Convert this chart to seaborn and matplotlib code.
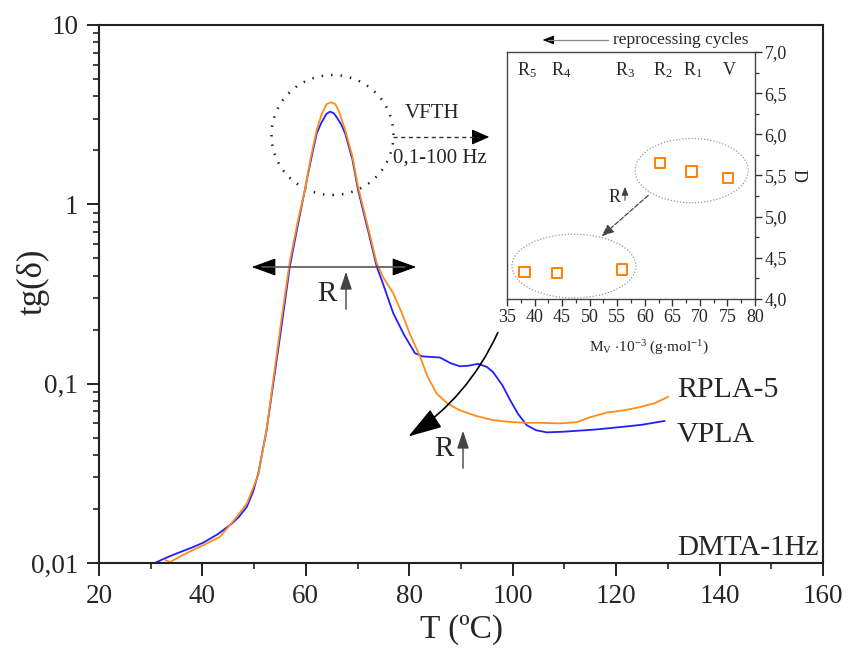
import numpy as np
import pandas as pd
import matplotlib
matplotlib.use("Agg")
import matplotlib.pyplot as plt
import seaborn as sns
from matplotlib.patches import Ellipse, FancyArrowPatch
from matplotlib.lines import Line2D
from matplotlib.ticker import LogLocator, NullFormatter, MultipleLocator, FuncFormatter

# ---------------- data ----------------
vpla_T = [30.8, 33.0, 35.0, 38.0, 40.2, 43.0, 45.7, 47.0, 48.6, 49.8, 50.8, 52.4, 53.7, 55.3,
          56.9, 58.5, 59.8, 61.0, 62.1, 63.0, 64.0, 64.7, 65.4, 66.0, 66.8, 67.6, 69.0, 70.1,
          72.0, 73.7, 75.0, 76.9, 79.0, 81.1, 82.5, 84.0, 85.9, 88.0, 89.8, 91.5, 93.3, 95.0,
          96.2, 98.0, 99.5, 101.0, 102.7, 104.5, 106.6, 110.0, 112.4, 116.0, 121.4, 125.0, 129.4]
vpla_tan = [0.0100, 0.0107, 0.0113, 0.0122, 0.0130, 0.0145, 0.0166, 0.0180, 0.0206, 0.0250,
            0.0316, 0.0550, 0.1000, 0.2100, 0.4500, 0.7800, 1.2000, 1.7800, 2.4900, 2.8500,
            3.2000, 3.2900, 3.2200, 3.0500, 2.8000, 2.4900, 1.7800, 1.2000, 0.7200, 0.4500,
            0.3550, 0.2470, 0.1870, 0.1480, 0.1420, 0.1410, 0.1400, 0.1300, 0.1250, 0.1260,
            0.1290, 0.1240, 0.1160, 0.0980, 0.0810, 0.0680, 0.0587, 0.0550, 0.0535, 0.0540,
            0.0546, 0.0555, 0.0575, 0.0590, 0.0620]

rpla_T = [32.8, 33.7, 35.5, 37.6, 40.0, 43.4, 46.6, 48.6, 50.8, 52.4, 53.7, 55.3, 56.9, 58.5,
          59.8, 61.0, 62.1, 63.0, 64.0, 64.9, 65.7, 66.4, 67.6, 69.0, 70.1, 72.0, 73.7, 75.0,
          76.9, 78.5, 80.1, 82.1, 83.5, 85.3, 87.5, 89.8, 93.0, 96.2, 100.0, 102.7, 105.3,
          109.1, 112.4, 115.0, 118.2, 121.5, 124.6, 127.5, 130.1]
rpla_tan = [0.0104, 0.0101, 0.0108, 0.0116, 0.0125, 0.0140, 0.0180, 0.0215, 0.0310, 0.0550,
            0.1050, 0.2300, 0.4800, 0.8200, 1.2000, 1.8500, 2.6000, 3.1500, 3.6200, 3.7100,
            3.6200, 3.3000, 2.6000, 1.8500, 1.2500, 0.7500, 0.4700, 0.3900, 0.3190, 0.2500,
            0.1900, 0.1410, 0.1100, 0.0880, 0.0770, 0.0710, 0.0660, 0.0626, 0.0610, 0.0605,
            0.0605, 0.0600, 0.0610, 0.0650, 0.0690, 0.0710, 0.0740, 0.0780, 0.0845]

# inset data
mv = [38.2, 44.1, 55.9, 62.7, 68.5, 75.1]
disp = [4.33, 4.32, 4.36, 5.65, 5.55, 5.47]
sample_labels = [r"R$_{5}$", r"R$_{4}$", r"R$_{3}$", r"R$_{2}$", r"R$_{1}$", "V"]
label_x = [38.7, 44.8, 56.4, 63.3, 68.8, 75.3]

main_yticks = [0.01, 0.1, 1, 10]
main_yticklabels = ["0,01", "0,1", "1", "10"]
main_xticks = [20, 40, 60, 80, 100, 120, 140, 160]

BLUE = "#2020ff"
ORANGE = "#ff8c1a"

# ---------------- style ----------------
sns.set_style("ticks")
plt.rcParams["font.family"] = ["Liberation Serif", "DejaVu Serif"]
plt.rcParams["mathtext.fontset"] = "custom"
plt.rcParams["mathtext.rm"] = "Liberation Serif"
plt.rcParams["mathtext.it"] = "Liberation Serif:italic"
plt.rcParams["mathtext.default"] = "rm"

W, H = 849, 651
fig = plt.figure(figsize=(W / 100, H / 100), dpi=100)
fig.patch.set_facecolor("white")


def P(x, y):
    return (x / W, 1 - y / H)


ax = fig.add_axes([99 / W, 1 - 563 / H, 724 / W, 538 / H])
df_v = pd.DataFrame({"T": vpla_T, "tan": vpla_tan})
df_r = pd.DataFrame({"T": rpla_T, "tan": rpla_tan})
sns.lineplot(data=df_v, x="T", y="tan", ax=ax, color=BLUE, lw=1.3, sort=False, estimator=None)
sns.lineplot(data=df_r, x="T", y="tan", ax=ax, color=ORANGE, lw=1.3, sort=False, estimator=None)
ax.set_yscale("log")
ax.set_xlim(20, 160)
ax.set_ylim(0.01, 10)
ax.set_yticks(main_yticks, main_yticklabels)
ax.yaxis.set_minor_locator(LogLocator(base=10, subs=np.arange(2, 10)))
ax.yaxis.set_minor_formatter(NullFormatter())
ax.set_xticks(main_xticks)
ax.xaxis.set_minor_locator(MultipleLocator(10))
ax.tick_params(axis="both", which="major", direction="out", length=9, width=1.4,
               labelsize=19.5, pad=6, color="#222222")
ax.tick_params(axis="both", which="minor", direction="out", length=4.5, width=1.2, color="#222222")
ax.tick_params(top=False, right=False, which="both")
for s in ax.spines.values():
    s.set_linewidth(1.5)
    s.set_color("#222222")
ax.set_xlabel("T (ºC)", fontsize=24, labelpad=4)
ax.set_ylabel("")
ax.grid(False)
fig.text(*P(33, 282), "tg(δ)", fontsize=25, rotation=90, ha="center", va="center")

# labels on main plot
fig.text(*P(677, 390), "RPLA-5", fontsize=21.5, ha="left", va="center")
fig.text(*P(677, 435), "VPLA", fontsize=21.5, ha="left", va="center")
fig.text(*P(819, 548), "DMTA-1Hz", fontsize=21, ha="right", va="center")

# dotted circle around peak
ax.add_patch(Ellipse((0.3225, 0.7955), 0.1685, 0.2230, transform=ax.transAxes,
                     fill=False, ec="#222222", lw=1.8, ls=(0, (0.6, 3.2))))
# VFTH dashed arrow
fig.add_artist(Line2D([393 / W, 478 / W], [1 - 137 / H, 1 - 137 / H],
                      transform=fig.transFigure, color="#333333", lw=1.0, ls=(0, (3, 2.5))))
fig.add_artist(FancyArrowPatch(P(476, 137), P(492, 137), transform=fig.transFigure,
                               arrowstyle="-|>,head_length=0.5,head_width=0.22",
                               mutation_scale=22, color="black", lw=0.8))
fig.text(*P(432, 114), "VFTH", fontsize=15, ha="center", va="center")
fig.text(*P(440, 158), "0,1-100 Hz", fontsize=15, ha="center", va="center")

# horizontal double arrow
fig.add_artist(Line2D([262 / W, 405 / W], [1 - 267 / H, 1 - 267 / H],
                      transform=fig.transFigure, color="#555555", lw=1.2))
fig.add_artist(FancyArrowPatch(P(272, 267), P(249, 267), transform=fig.transFigure,
                               arrowstyle="-|>,head_length=0.55,head_width=0.2",
                               mutation_scale=28, color="black", lw=0.8))
fig.add_artist(FancyArrowPatch(P(396, 267), P(419, 267), transform=fig.transFigure,
                               arrowstyle="-|>,head_length=0.55,head_width=0.2",
                               mutation_scale=28, color="black", lw=0.8))
fig.text(*P(327, 294), "R", fontsize=21, ha="center", va="center")
fig.add_artist(FancyArrowPatch(P(346, 312), P(346, 269), transform=fig.transFigure,
                               arrowstyle="-|>,head_length=0.6,head_width=0.2",
                               mutation_scale=18, color="#444444", lw=1.0))

# curved arrow
fig.add_artist(FancyArrowPatch(P(499, 330), P(406, 438), transform=fig.transFigure,
                               connectionstyle="arc3,rad=-0.15",
                               arrowstyle="-|>,head_length=0.7,head_width=0.22",
                               mutation_scale=30, color="black", lw=1.2))
fig.text(*P(444, 449), "R", fontsize=21, ha="center", va="center")
fig.add_artist(FancyArrowPatch(P(463, 471), P(463, 428), transform=fig.transFigure,
                               arrowstyle="-|>,head_length=0.6,head_width=0.2",
                               mutation_scale=18, color="#444444", lw=1.0))

# ---------------- inset ----------------
axi = fig.add_axes([507 / W, 1 - 299 / H, 248 / W, 247 / H])
axi.set_facecolor("white")
df_i = pd.DataFrame({"Mv": mv, "D": disp})
sns.scatterplot(data=df_i, x="Mv", y="D", ax=axi, marker="s", s=55,
                facecolors="none", edgecolor="#ff8000", linewidth=1.4)
axi.set_xlim(35, 80)
axi.set_ylim(4.0, 7.0)
axi.xaxis.set_major_locator(MultipleLocator(5))
axi.xaxis.set_minor_locator(MultipleLocator(2.5))
axi.yaxis.set_major_locator(MultipleLocator(0.5))
axi.yaxis.set_minor_locator(MultipleLocator(0.25))
axi.yaxis.tick_right()
axi.yaxis.set_label_position("right")
axi.yaxis.set_major_formatter(FuncFormatter(lambda v, p: f"{v:.1f}".replace(".", ",")))
axi.tick_params(axis="both", which="major", direction="out", length=5, width=1.0,
                labelsize=13, pad=2, color="#333333")
axi.tick_params(axis="both", which="minor", direction="out", length=3, width=0.9, color="#333333")
axi.tick_params(axis="y", which="both", left=False, right=True)
for s in axi.spines.values():
    s.set_linewidth(1.0)
    s.set_color("#444444")
axi.set_xlabel("")
axi.set_ylabel("D", fontsize=13, rotation=-90, labelpad=14)
axi.grid(False)

for lx, lab in zip(label_x, sample_labels):
    axi.text(lx, 6.78, lab, fontsize=13, ha="center", va="center")

axi.add_patch(Ellipse((68.5, 5.56), 20.5, 0.78, fill=False, ec="#999999", lw=0.9, ls=(0, (1, 1.5))))
axi.add_patch(Ellipse((47.15, 4.40), 22.5, 0.775, fill=False, ec="#999999", lw=0.9, ls=(0, (1, 1.5))))
axi.annotate("", xy=(51.8, 4.74), xytext=(61.0, 5.28),
             arrowprops=dict(arrowstyle="-|>,head_length=0.6,head_width=0.25", color="#444444",
                             lw=0.9, ls="--", mutation_scale=12))
fig.text(*P(615, 197), "R", fontsize=13, ha="center", va="center")
fig.add_artist(FancyArrowPatch(P(625, 203), P(625, 184), transform=fig.transFigure,
                               arrowstyle="-|>,head_length=0.5,head_width=0.2",
                               mutation_scale=10, color="#444444", lw=0.8))

fig.text(*P(649, 348), r"M$_{\mathrm{V}}$ $\cdot$10$^{-3}$ (g$\cdot$mol$^{-1}$)",
         fontsize=11, ha="center", va="center", color="#222222")

# reprocessing cycles arrow
fig.add_artist(Line2D([548 / W, 608 / W], [1 - 40 / H, 1 - 40 / H],
                      transform=fig.transFigure, color="#888888", lw=0.9))
fig.add_artist(FancyArrowPatch(P(552, 40), P(540, 40), transform=fig.transFigure,
                               arrowstyle="-|>,head_length=0.5,head_width=0.2",
                               mutation_scale=14, color="black", lw=0.6))
fig.text(*P(681, 40), "reprocessing cycles", fontsize=12.5, ha="center", va="center")

fig.savefig("out.png", dpi=100, facecolor="white")
